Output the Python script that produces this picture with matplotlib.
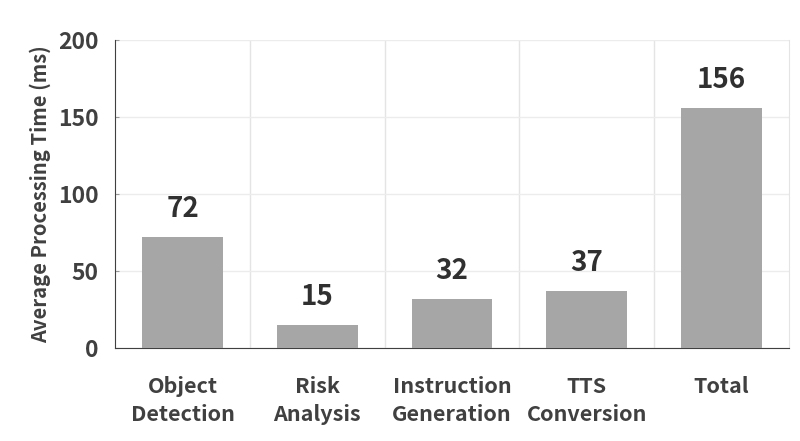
import matplotlib
matplotlib.use("Agg")
import matplotlib.pyplot as plt

plt.rcParams['font.family'] = ['Noto Sans CJK KR', 'DejaVu Sans']

categories = ["Object\nDetection", "Risk\nAnalysis", "Instruction\nGeneration",
              "TTS\nConversion", "Total"]
times_ms = [72, 15, 32, 37, 156]

txt = "#404040"
fig = plt.figure(figsize=(8, 4.41), dpi=100)
ax = fig.add_axes([0.144, 0.211, 0.842, 0.698])

x = list(range(len(categories)))
ax.bar(x, times_ms, width=0.6, color="#a6a6a6", zorder=3)
for xi, v in zip(x, times_ms):
    ax.text(xi, v + 9, str(v), ha="center", va="bottom", fontsize=20,
            color="#303030", fontweight="bold")

ax.set_xlim(-0.5, 4.5)
ax.set_ylim(0, 200)
ax.set_yticks([0, 50, 100, 150, 200])
ax.set_xticks(x)
ax.set_xticklabels(categories, fontsize=15.5, color=txt, fontweight="bold",
                   linespacing=1.45)
ax.tick_params(axis="x", direction="in", length=4, pad=20, color="#555555")
ax.tick_params(axis="y", direction="in", length=3, pad=12, labelsize=16.5,
               labelcolor=txt, color="#999999")
for lab in ax.get_yticklabels():
    lab.set_fontweight("bold")

ax.set_xticks([0.5, 1.5, 2.5, 3.5], minor=True)
ax.tick_params(axis="x", which="minor", length=0)
ax.grid(axis="x", which="minor", color="#e4e4e4", lw=1, zorder=0)
ax.grid(axis="y", which="major", color="#ececec", lw=1, zorder=0)

ax.set_ylabel("Average Processing Time (ms)", fontsize=14.5, color=txt,
              fontweight="bold", labelpad=5)

ax.spines["top"].set_visible(False)
ax.spines["right"].set_color("#e4e4e4")
ax.spines["left"].set_color("#404040")
ax.spines["bottom"].set_color("#404040")

fig.savefig("out.png", dpi=100)
